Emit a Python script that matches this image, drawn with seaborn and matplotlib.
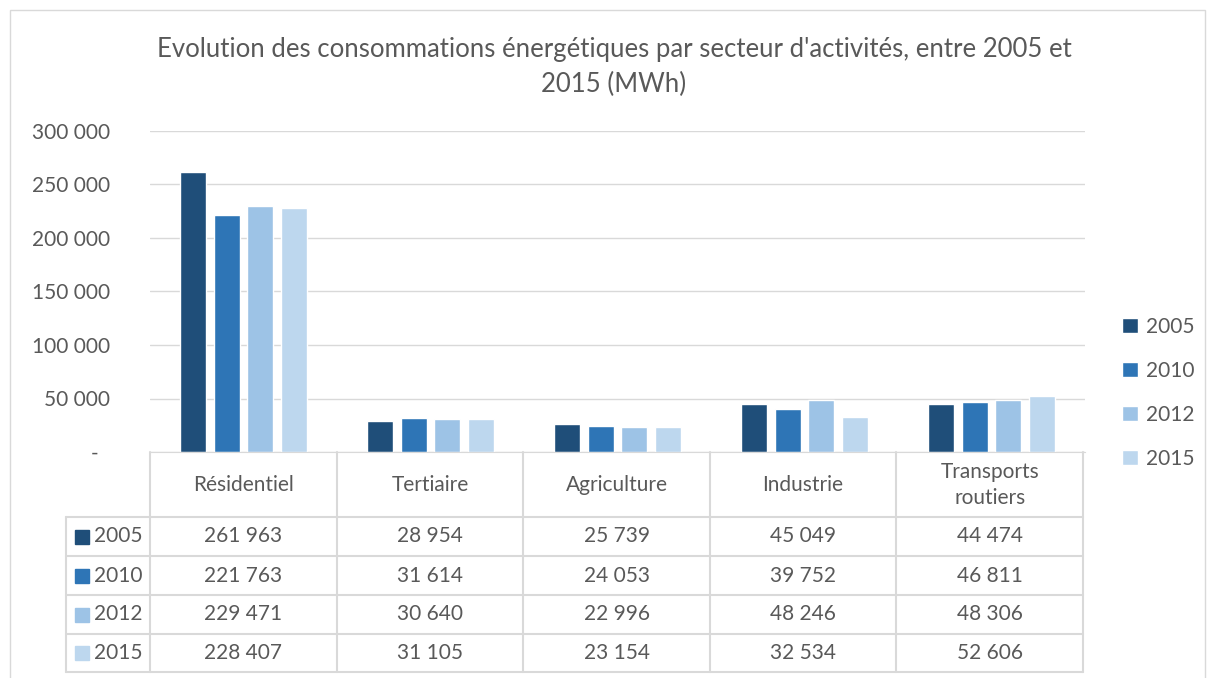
import numpy as np
import pandas as pd
import matplotlib.pyplot as plt
import seaborn as sns
from matplotlib.patches import Rectangle

sectors = ["Résidentiel", "Tertiaire", "Agriculture", "Industrie", "Transports\nroutiers"]
years = ["2005", "2010", "2012", "2015"]
v2005 = [261963, 28954, 25739, 45049, 44474]
v2010 = [221763, 31614, 24053, 39752, 46811]
v2012 = [229471, 30640, 22996, 48246, 48306]
v2015 = [228407, 31105, 23154, 32534, 52606]
colors = ["#1F4E79", "#2E75B6", "#9DC3E6", "#BDD7EE"]

values = [v2005, v2010, v2012, v2015]
df = pd.DataFrame({
    "Secteur": sectors * len(years),
    "Année": np.repeat(years, len(sectors)),
    "MWh": v2005 + v2010 + v2012 + v2015,
})

def fmt(v):
    return f"{v:,}".replace(",", " ")

sns.set_style("white")
plt.rcParams['font.family'] = ['Lato', 'DejaVu Sans']
grey = "#595959"
line = "#D9D9D9"
fs = 15

W, H = 1215, 678
fig = plt.figure(figsize=(W / 100, H / 100), dpi=100)

# outer chart border
fig.add_artist(Rectangle((10 / W, -0.01), 1195 / W, 668 / H + 0.01,
                         transform=fig.transFigure, fill=False, ec=line, lw=1))

fig.text(614 / W, 1 - 67 / H,
         "Evolution des consommations énergétiques par secteur d'activités, entre 2005 et\n2015 (MWh)",
         ha="center", va="center", fontsize=18.5, color=grey, linespacing=1.45)

# bars
ax = fig.add_axes([150 / W, 1 - 452 / H, (1085 - 150) / W, (452 - 131) / H])
sns.barplot(data=df, x="Secteur", y="MWh", hue="Année", palette=colors,
            width=0.72, gap=0.22, ax=ax, saturation=1)
ax.set_ylim(0, 300000)
ax.set_yticks(range(0, 300001, 50000))
ax.set_yticklabels(["-  " if t == 0 else fmt(t) for t in range(0, 300001, 50000)])
ax.yaxis.grid(True, color=line, lw=1)
ax.set_axisbelow(True)
ax.tick_params(axis="y", length=0, pad=29, labelsize=fs, labelcolor=grey)
ax.set_xticks([])
ax.set_xlabel("")
ax.set_ylabel("")
for s in ["top", "right", "left"]:
    ax.spines[s].set_visible(False)
ax.spines["bottom"].set_color(line)

handles, labels = ax.get_legend_handles_labels()
ax.legend(handles, labels, loc="center left", bbox_to_anchor=(1.020, 0.184),
          frameon=False, fontsize=fs, labelcolor=grey, handlelength=0.75,
          handleheight=0.75, handletextpad=0.4, labelspacing=1.15)

# data table under the plot
tax = fig.add_axes([0, 0, 1, 1])
tax.set_xlim(0, W)
tax.set_ylim(H, 0)
tax.axis("off")
xs = np.linspace(150, 1083, len(sectors) + 1)
rows = [517, 556, 595, 634, 672]
for x in xs:
    tax.plot([x, x], [452, 672], color=line, lw=1.5)
tax.plot([66, 66], [517, 672], color=line, lw=1.5)
for y in rows:
    tax.plot([66, 1083], [y, y], color=line, lw=1.5)
for i, s in enumerate(sectors):
    cx = (xs[i] + xs[i + 1]) / 2
    tax.text(cx, 485, s, ha="center", va="center", fontsize=fs, color=grey, linespacing=1.35)
    for j in range(len(years)):
        tax.text(cx, (rows[j] + rows[j + 1]) / 2, fmt(values[j][i]),
                 ha="center", va="center", fontsize=fs, color=grey)
for j, yr in enumerate(years):
    cy = (rows[j] + rows[j + 1]) / 2
    tax.add_patch(Rectangle((75, cy - 7), 14, 14, color=colors[j]))
    tax.text(94, cy, yr, ha="left", va="center", fontsize=fs, color=grey)

fig.savefig("out.png", dpi=100)
